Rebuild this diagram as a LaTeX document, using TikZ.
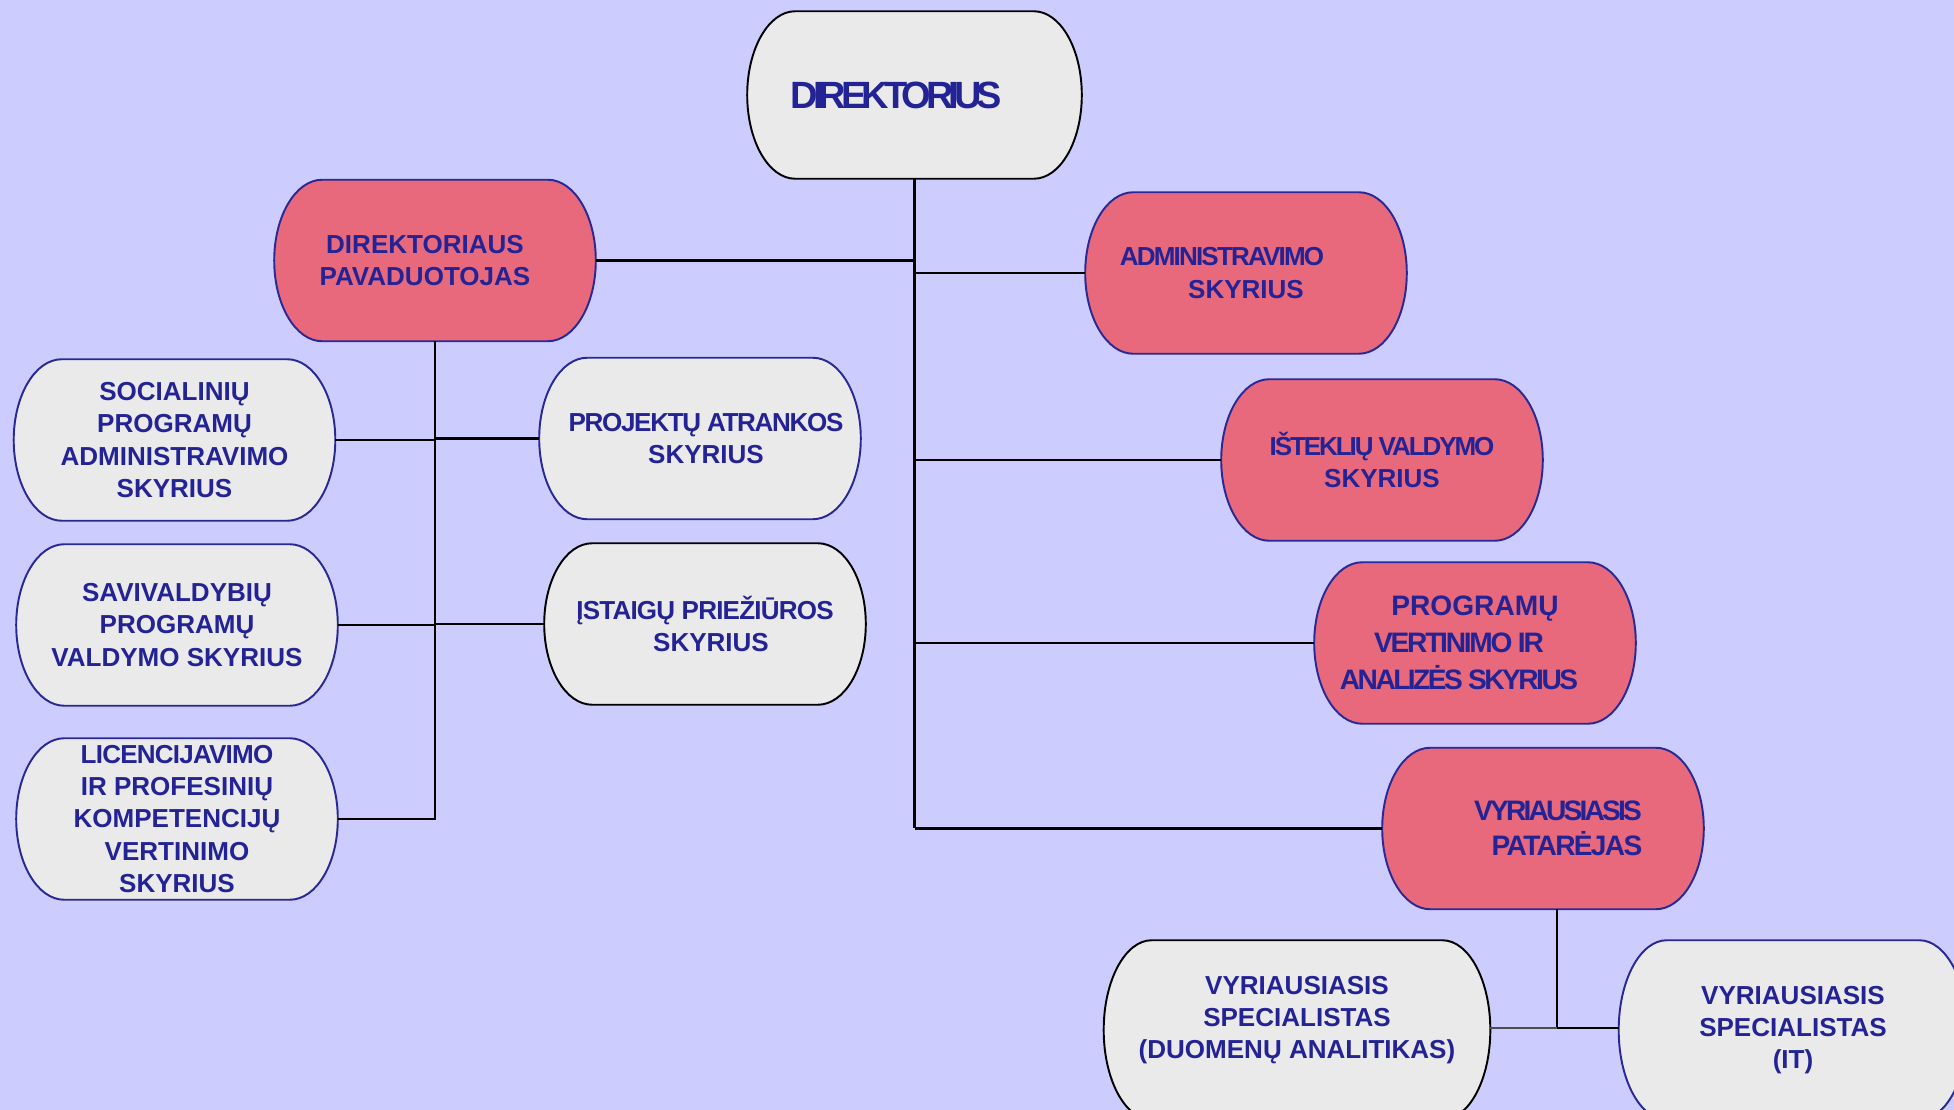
\documentclass[tikz,border=0pt]{standalone}
\usepackage{fontspec}
\setmainfont{Liberation Sans}
\usetikzlibrary{calc,backgrounds}
\definecolor{bgblue}{RGB}{204,204,255}
\definecolor{boxgray}{RGB}{234,234,234}
\definecolor{boxred}{RGB}{232,105,124}
\definecolor{txtblue}{RGB}{35,35,150}
\definecolor{edgeblue}{RGB}{40,40,150}
\newcommand{\squeeze}[2]{{\addfontfeature{LetterSpace=#1}#2}}
\tikzset{main box/.style={rectangle,text=txtblue,align=center,inner sep=0pt,minimum width=3.2cm,minimum height=1.6cm,
		font=\fontsize{7.4}{9.2}\selectfont\bfseries},
	conn/.style={line width=0.7pt,black},
}

\begin{document}
\begin{tikzpicture}[x=0.01cm,y=-0.01cm]
	\path[use as bounding box] (0,0) rectangle (1954,1110);
	\clip (0,0) rectangle (1954,1110);
	
	\node[main box,minimum width=3.33cm,minimum height=1.66cm,font=\fontsize{10.8}{13}\selectfont\bfseries] (dir) at (914.5,95) {\squeeze{-13}{DIREKTORIUS}\hspace*{0.36cm}};
	\node[main box] (pav) at (435,260.5) {\hspace*{-0.2cm}DIREKTORIAUS\\\hspace*{-0.2cm}PAVADUOTOJAS};
	\node[main box] (adm) at (1246,273) {\squeeze{-7}{ADMINISTRAVIMO}\hspace*{0.48cm}\\SKYRIUS};
	\node[main box] (ist) at (1382,460) {\squeeze{-8}{IŠTEKLIŲ VALDYMO}\\SKYRIUS};
	\node[main box,font=\fontsize{8}{10.5}\selectfont\bfseries] (pva) at (1475,643) {PROGRAMŲ\\\hspace*{-0.32cm}\squeeze{-8}{VERTINIMO IR}\\\hspace*{-0.32cm}\squeeze{-9}{ANALIZĖS SKYRIUS}};
	\node[main box,font=\fontsize{8}{10}\selectfont\bfseries] (vpa) at (1543,828.5) {\hspace*{0.3cm}\squeeze{-10}{VYRIAUSIASIS}\\\hspace*{0.48cm}\squeeze{-6}{PATARĖJAS}};
	
	\node[main box] (spa) at (174.5,440) {SOCIALINIŲ\\PROGRAMŲ\\ADMINISTRAVIMO\\SKYRIUS};
	\node[main box] (pat) at (700,438.5) {\hspace*{0.12cm}\squeeze{-5}{PROJEKTŲ ATRANKOS}\\\hspace*{0.12cm}SKYRIUS};
	\node[main box] (spv) at (177,625) {SAVIVALDYBIŲ\\PROGRAMŲ\\VALDYMO SKYRIUS};
	\node[main box] (ipr) at (705,624) {\squeeze{-3}{ĮSTAIGŲ PRIEŽIŪROS}\\\hspace*{0.12cm}SKYRIUS};
	\node[main box] (lic) at (177,819) {\squeeze{-3}{LICENCIJAVIMO}\\IR PROFESINIŲ\\KOMPETENCIJŲ\\VERTINIMO\\SKYRIUS};
	
	\node[main box,minimum width=3.85cm,minimum height=1.78cm] (vsd) at (1297,1030) {VYRIAUSIASIS\\SPECIALISTAS\\(DUOMENŲ ANALITIKAS)\\[-2pt]\mbox{}};
	\node[main box,minimum width=3.47cm,minimum height=1.78cm] (vsi) at (1793,1030) {VYRIAUSIASIS\\SPECIALISTAS\\(IT)};
	\coordinate (vj) at (1557,1028);
	
	\begin{pgfonlayer}{background}
		\fill[bgblue] (0,0) rectangle (1954,1110);
		\foreach \b/\f/\d in {dir/boxgray/black,pav/boxred/edgeblue,adm/boxred/edgeblue,ist/boxred/edgeblue,
			pva/boxred/edgeblue,vpa/boxred/edgeblue,spa/boxgray/edgeblue,pat/boxgray/edgeblue,spv/boxgray/edgeblue,
			ipr/boxgray/black,lic/boxgray/edgeblue,vsd/boxgray/black,vsi/boxgray/edgeblue}
			\filldraw[fill=\f,draw=\d,line width=0.55pt] let \p1=($(\b.north)-(\b.south)$) in
				([xshift=4.8mm]\b.north west) -- ([xshift=-4.8mm]\b.north east)
				arc[start angle=90,end angle=-90,x radius=4.8mm,y radius=0.5*\y1]
				-- ([xshift=4.8mm]\b.south west)
				arc[start angle=270,end angle=90,x radius=4.8mm,y radius=0.5*\y1] -- cycle;
	\end{pgfonlayer}
	
	\draw[conn] (dir.south) -- (dir.south |- vpa.west);
	\draw[conn] (pav.east) -- (pav.east -| dir.south);
	\foreach \b in {adm,ist,pva,vpa}
		\draw[conn] (\b.west) -- (\b.west -| dir.south);
	\draw[conn] (pav.south) -- (pav.south |- lic.east) -- (lic.east);
	\foreach \b in {spa,spv}
		\draw[conn] (\b.east) -- (\b.east -| pav.south);
	\foreach \b in {pat,ipr}
		\draw[conn] (\b.west) -- (\b.west -| pav.south);
	\draw[conn] (vpa.south -| vj) -- (vj) -- (vj -| vsi.west);
	\draw[line width=0.4pt,black!70] (vj) -- (vj -| vsd.east);
\end{tikzpicture}
\end{document}
